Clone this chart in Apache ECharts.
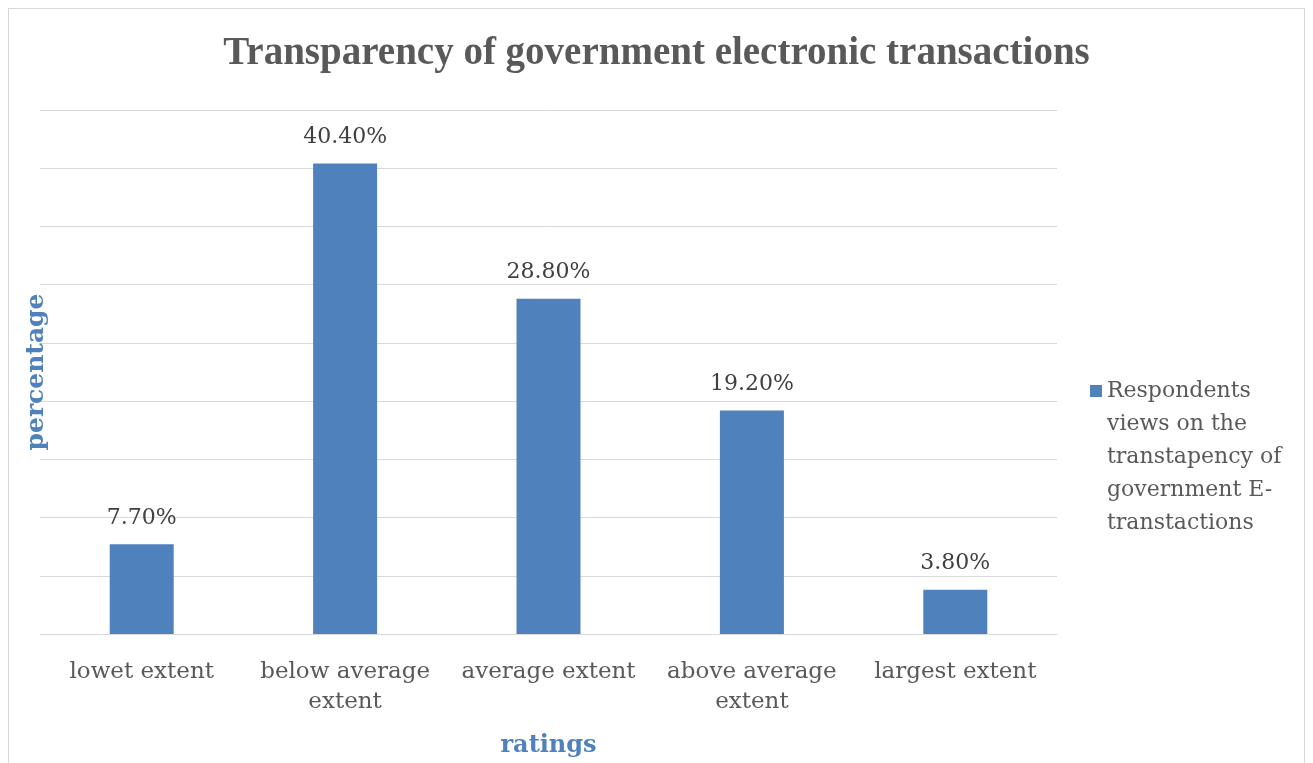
<!DOCTYPE html>
<html>
<head>
<meta charset="utf-8">
<script src="https://cdn.jsdelivr.net/npm/echarts@6/dist/echarts.min.js"></script>
<style>
  html, body { margin: 0; padding: 0; background: #ffffff; overflow: hidden; width: 1313px; height: 763px; }
  #frame { position: absolute; left: 8px; top: 8px; width: 1297px; height: 755px; border: 1px solid #d9d9d9; border-bottom: none; box-sizing: border-box; }
  #chart { position: absolute; left: 0; top: 0; width: 1313px; height: 763px; }
</style>
</head>
<body>
<div id="frame"></div>
<div id="chart"></div>
<script>
// Survey ratings and share of respondents (%)
const categories = ['lowet extent', 'below average\nextent', 'average extent', 'above average\nextent', 'largest extent'];
const values = [7.7, 40.4, 28.8, 19.2, 3.8];
const seriesName = 'Respondents views on the transtapency of government E-transtactions';
const legendLines = ['Respondents', 'views on the', 'transtapency of', 'government E-', 'transtactions'];

const TITLE_FONT = '"Liberation Serif", serif';
const FONT = '"DejaVu Serif", serif';
const LEGEND_LINE = 33;

const chart = echarts.init(document.getElementById('chart'));
chart.setOption({
  animation: false,
  title: {
    text: 'Transparency of government electronic transactions',
    left: 'center',
    top: 29,
    textStyle: { fontFamily: TITLE_FONT, fontSize: 39, fontWeight: 'bold', color: '#595959' }
  },
  legend: {
    orient: 'vertical',
    left: 1085,
    // the wrapped name is padded with blank lines above so the marker sits beside its first line
    top: 386 - (legendLines.length - 0.5) * LEGEND_LINE,
    itemWidth: 12,
    itemHeight: 12,
    icon: 'rect',
    formatter: () => legendLines.map(() => '').slice(1).join('\n') + '\n' + legendLines.join('\n'),
    textStyle: { fontFamily: FONT, fontSize: 22, color: '#595959', lineHeight: LEGEND_LINE }
  },
  grid: { left: 40, right: 256, top: 110, bottom: 129, containLabel: false, outerBoundsMode: 'none' },
  xAxis: {
    type: 'category',
    data: categories,
    name: 'ratings',
    nameLocation: 'middle',
    nameGap: 100,
    nameTextStyle: { fontFamily: FONT, fontSize: 24, fontWeight: 'bold', color: '#4f81bd' },
    axisLine: { lineStyle: { color: '#d9d9d9', width: 1 } },
    axisTick: { show: false },
    axisLabel: { fontFamily: FONT, fontSize: 23, color: '#595959', margin: 23, lineHeight: 30, interval: 0 }
  },
  yAxis: {
    type: 'value',
    min: 0,
    max: 45,
    interval: 5,
    name: 'percentage',
    nameLocation: 'middle',
    nameGap: -9,
    nameRotate: 90,
    nameTextStyle: { fontFamily: FONT, fontSize: 25, fontWeight: 'bold', color: '#4f81bd' },
    axisLabel: { show: false },
    axisLine: { show: false },
    axisTick: { show: false },
    splitLine: { lineStyle: { color: '#d9d9d9', width: 1 } }
  },
  series: [{
    name: seriesName,
    type: 'bar',
    data: values,
    barWidth: 64,
    itemStyle: { color: '#4f81bd' },
    label: {
      show: true,
      position: 'top',
      distance: 15,
      formatter: p => p.value.toFixed(2) + '%',
      fontFamily: FONT,
      fontSize: 22,
      color: '#404040'
    }
  }]
});
</script>
</body>
</html>
